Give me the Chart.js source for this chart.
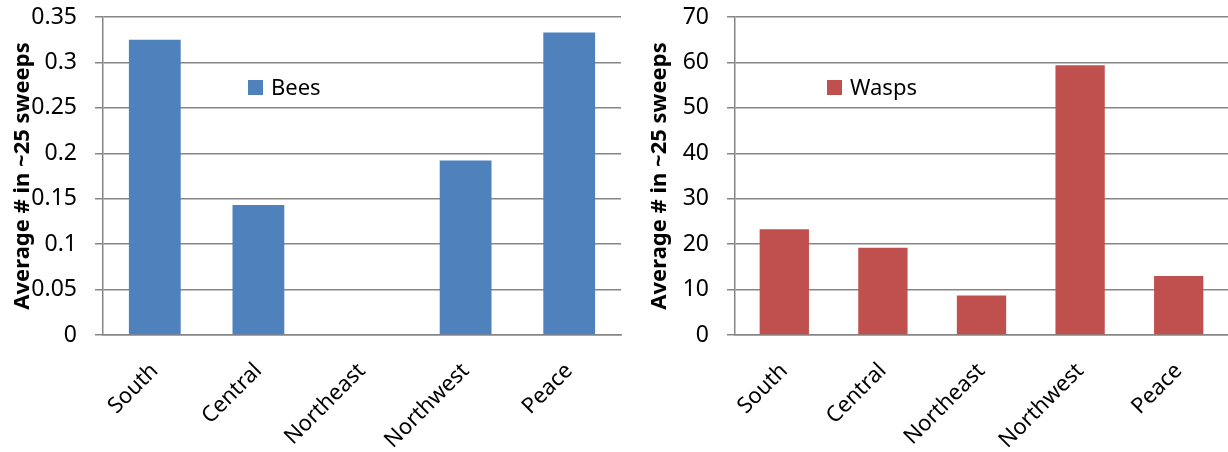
<!DOCTYPE html>
<html>
<head>
<meta charset="utf-8">
<script src="https://cdn.jsdelivr.net/npm/chart.js@4.4.0/dist/chart.umd.min.js"></script>
<style>
  html, body { margin: 0; padding: 0; background: #fff; }
  .box { position: absolute; top: 0; height: 452px; }
  #leftBox  { left: 0;     width: 622px; }
  #rightBox { left: 622px; width: 606px; }
</style>
</head>
<body>
<div class="box" id="leftBox"><canvas id="beesChart"></canvas></div>
<div class="box" id="rightBox"><canvas id="waspsChart"></canvas></div>
<script>
const regions = ['South', 'Central', 'Northeast', 'Northwest', 'Peace'];
const bees  = [0.325, 0.143, 0, 0.192, 0.333];
const wasps = [23.3, 19.2, 8.7, 59.4, 13.0];
const yTitle = 'Average # in ~25 sweeps';

const FONT = '"Noto Sans", "Open Sans", sans-serif';
const GRID = '#868686';

// small legend drawn inside the plot area, like the Excel original
const insideLegend = {
  id: 'insideLegend',
  afterDraw(chart, args, opts) {
    const { ctx, chartArea } = chart;
    const ds = chart.data.datasets[0];
    const x = chartArea.left + opts.x, y = opts.y;
    ctx.save();
    ctx.fillStyle = ds.backgroundColor;
    ctx.fillRect(x, y, 15, 15);
    ctx.fillStyle = '#000';
    ctx.font = '22px ' + FONT;
    ctx.textBaseline = 'middle';
    ctx.fillText(ds.label, x + 23, y + 9);
    ctx.restore();
  }
};

// 0.30 -> 0.3, 0.10 -> 0.1
const fmtTick = v => String(Number(v.toFixed(2)));

function makeChart(el, label, data, color, yMax, yStep, yWidth, titlePad, legendX, padRight) {
  return new Chart(document.getElementById(el), {
    type: 'bar',
    data: {
      labels: regions,
      datasets: [{ label, data, backgroundColor: color, barPercentage: 0.5, categoryPercentage: 1 }]
    },
    options: {
      responsive: true,
      maintainAspectRatio: false,
      animation: false,
      layout: { padding: { top: 17, left: 0, right: padRight, bottom: 0 } },
      scales: {
        x: {
          grid: { display: false },
          border: { color: GRID, width: 1.5 },
          ticks: { color: '#000', font: { family: FONT, size: 22 }, minRotation: 45, maxRotation: 45, padding: 15 },
          afterFit: s => { s.height = 117; }
        },
        y: {
          min: 0, max: yMax,
          grid: { color: GRID, lineWidth: 1.5, tickLength: 8 },
          border: { color: GRID, width: 1.5 },
          ticks: { stepSize: yStep, color: '#000', font: { family: FONT, size: 23 }, padding: 18, callback: fmtTick },
          title: { display: true, text: yTitle, color: '#000', font: { family: FONT, size: 22, weight: 'bold' }, padding: { top: titlePad, bottom: 0 } },
          afterFit: s => { s.width = yWidth; s.paddingTop = 0; s.paddingBottom = 0; }
        }
      },
      plugins: {
        legend: { display: false },
        tooltip: { enabled: false },
        insideLegend: { x: legendX, y: 80 }
      }
    },
    plugins: [insideLegend]
  });
}

makeChart('beesChart', 'Bees', bees, '#4F81BD', 0.35, 0.05, 103, 10, 145, 1);
makeChart('waspsChart', 'Wasps', wasps, '#C0504D', 70, 10, 113, 25, 92, 0);
</script>
</body>
</html>
